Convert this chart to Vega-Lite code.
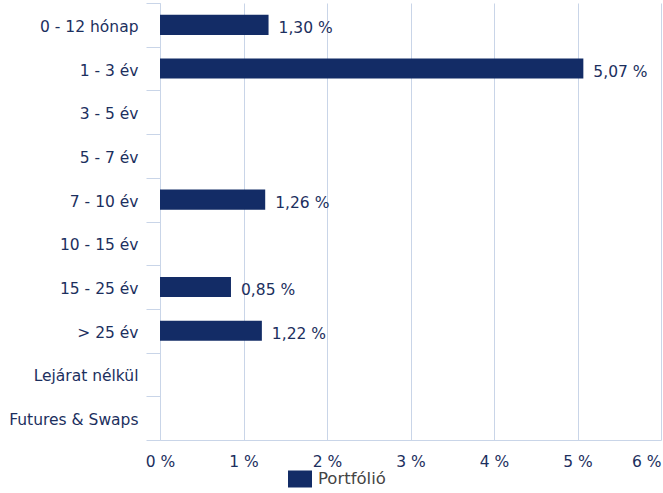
{
  "$schema": "https://vega.github.io/schema/vega-lite/v6.json",
  "width": 501,
  "height": 437,
  "autosize": {"type": "none"},
  "padding": {"left": 160, "top": 3, "right": 2, "bottom": 53},
  "config": {"view": {"stroke": null}, "font": "DejaVu Sans"},
  "data": {
    "values": [
      {"category": "0 - 12 hónap", "value": 1.30, "series": "Portfólió"},
      {"category": "1 - 3 év", "value": 5.07, "series": "Portfólió"},
      {"category": "7 - 10 év", "value": 1.26, "series": "Portfólió"},
      {"category": "15 - 25 év", "value": 0.85, "series": "Portfólió"},
      {"category": "> 25 év", "value": 1.22, "series": "Portfólió"}
    ]
  },
  "transform": [
    {"calculate": "replace(format(datum.value, '.2f'), '.', ',') + ' %'", "as": "label"}
  ],
  "encoding": {
    "y": {
      "field": "category",
      "type": "nominal",
      "sort": null,
      "scale": {
        "domain": ["0 - 12 hónap", "1 - 3 év", "3 - 5 év", "5 - 7 év", "7 - 10 év", "10 - 15 év", "15 - 25 év", "> 25 év", "Lejárat nélkül", "Futures & Swaps"],
        "paddingInner": 0,
        "paddingOuter": 0
      },
      "axis": {
        "title": null,
        "tickBand": "extent",
        "ticks": true,
        "tickSize": 14,
        "tickColor": "#c9d5e8",
        "domainColor": "#c9d5e8",
        "labelPadding": 8,
        "labelOffset": 1.5,
        "labelFontSize": 15.5,
        "labelColor": "#1c2f5e",
        "labelLimit": 200,
        "grid": false
      }
    },
    "x": {
      "field": "value",
      "type": "quantitative",
      "scale": {"domain": [0, 6], "nice": false},
      "axis": {
        "title": null,
        "values": [0, 1, 2, 3, 4, 5, 6],
        "labelExpr": "datum.value + ' %'",
        "labelAlign": {"condition": {"test": "datum.value == 6", "value": "right"}, "value": "center"},
        "grid": true,
        "gridColor": "#c9d5e8",
        "ticks": false,
        "domainColor": "#c9d5e8",
        "labelPadding": 14,
        "labelFontSize": 15.5,
        "labelColor": "#1c2f5e",
        "labelFlush": false
      }
    }
  },
  "layer": [
    {
      "mark": {"type": "bar", "height": {"band": 0.46}},
      "encoding": {
        "color": {
          "field": "series",
          "type": "nominal",
          "scale": {"range": ["#132c66"]},
          "legend": {
            "orient": "none",
            "legendX": 130,
            "legendY": 466,
            "title": null,
            "symbolType": "M-1.2,-0.85H1.2V0.85H-1.2Z",
            "symbolSize": 400,
            "symbolStrokeWidth": 0,
            "labelFontSize": 16.5,
            "labelColor": "#444444",
            "labelOffset": 8
          }
        }
      }
    },
    {
      "mark": {"type": "text", "align": "left", "baseline": "middle", "dx": 10, "dy": 3, "fontSize": 15.5, "color": "#1c2f5e"},
      "encoding": {"text": {"field": "label"}}
    }
  ]
}
